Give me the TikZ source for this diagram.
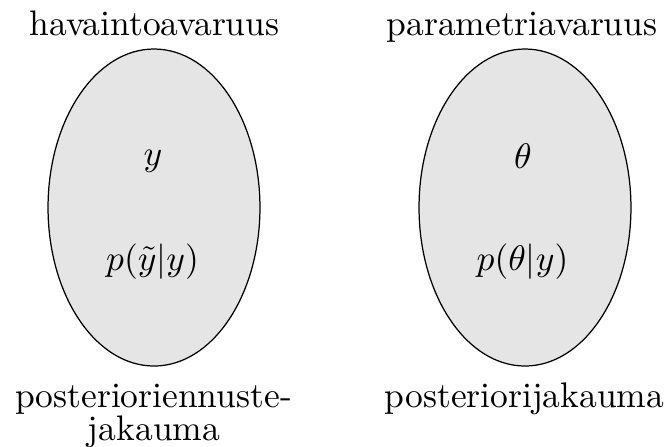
\documentclass[tikz,border=0pt]{standalone}
\usetikzlibrary{shapes.geometric}
\begin{document}
\begin{tikzpicture}[x=0.2817pt,y=-0.2817pt,
  space/.style={ellipse, draw=black, line width=0.35pt, fill=black!10,
    minimum width=59.7pt, minimum height=89.3pt, inner sep=0pt},
  lbl/.style={anchor=base, inner sep=0pt, font=\normalsize}]
\useasboundingbox (0,0) rectangle (668,446);
\node[space] (left) at (154,207.5) {};
\node[space] (right) at (525,207.5) {};
\node[lbl] (havainto) at (154.5,35) {havaintoavaruus};
\node[lbl] (parametri) at (522,35) {parametriavaruus};
\node[lbl] (y) at (153,165) {$y$};
\node[lbl] (pred) at (152.5,270) {$p(\tilde{y}|y)$};
\node[lbl] (theta) at (523,168) {$\theta$};
\node[lbl] (post) at (522.5,270) {$p(\theta|y)$};
\node[lbl] (ennuste1) at (153.5,407) {posterioriennuste-};
\node[lbl] (ennuste2) at (154,440) {jakauma};
\node[lbl] (jakauma) at (524.5,407) {posteriorijakauma};
\end{tikzpicture}
\end{document}
